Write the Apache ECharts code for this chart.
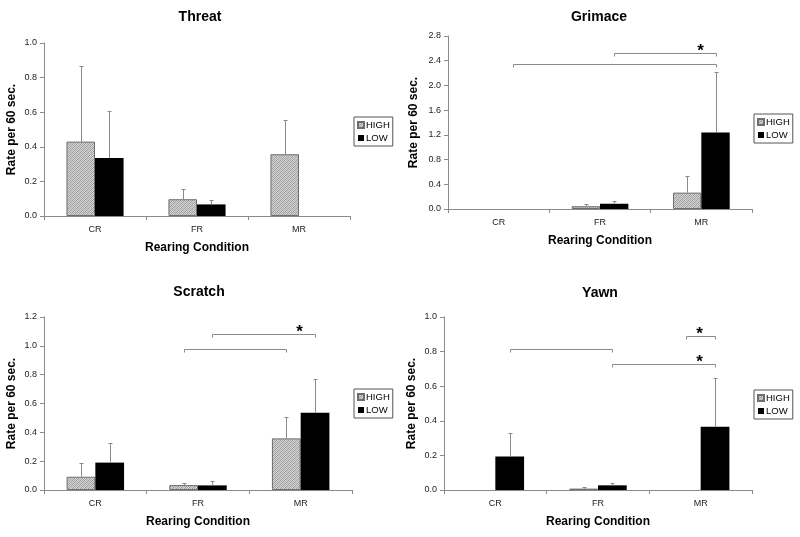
<!DOCTYPE html>
<html><head><meta charset="utf-8">
<script src="https://cdn.jsdelivr.net/npm/echarts@6/dist/echarts.min.js"></script>
<style>html,body{margin:0;padding:0;background:#fff}#c{width:800px;height:537px}</style>
</head><body><div id="c"></div>
<script>
const categories = ['CR', 'FR', 'MR'];
const seriesNames = ['HIGH', 'LOW'];
const panelTitles = ['Threat', 'Grimace', 'Scratch', 'Yawn'];
const yAxisMax = [1.0, 2.8, 1.2, 1.0];
const yAxisStep = [0.2, 0.4, 0.2, 0.2];

const threatHigh = [0.43, 0.097, 0.357];
const threatHighErr = [0.865, 0.154, 0.553];
const threatLow = [0.335, 0.067, 0];
const threatLowErr = [0.605, 0.091, null];

const grimaceHigh = [0, 0.045, 0.265];
const grimaceHighErr = [null, 0.075, 0.53];
const grimaceLow = [0, 0.085, 1.24];
const grimaceLowErr = [null, 0.135, 2.21];

const scratchHigh = [0.092, 0.034, 0.358];
const scratchHighErr = [0.185, 0.046, 0.505];
const scratchLow = [0.19, 0.032, 0.535];
const scratchLowErr = [0.326, 0.062, 0.773];

const yawnHigh = [0, 0.008, 0];
const yawnHighErr = [null, 0.016, null];
const yawnLow = [0.193, 0.027, 0.365];
const yawnLowErr = [0.328, 0.039, 0.645];

// brackets: [fromCat, fromSeries, toCat, toSeries, level, star]
const threatBrackets = [];
const grimaceBrackets = [[0, 1, 2, 1, 2.35, 0], [1, 1, 2, 1, 2.52, 1]];
const scratchBrackets = [[1, 0, 2, 0, 0.98, 0], [1, 1, 2, 1, 1.085, 1]];
const yawnBrackets = [[0, 1, 1, 1, 0.813, 0], [1, 1, 2, 1, 0.728, 1], [2, 0, 2, 1, 0.89, 1]];

const panels = [
  {high: threatHigh, highErr: threatHighErr, low: threatLow, lowErr: threatLowErr, brackets: threatBrackets},
  {high: grimaceHigh, highErr: grimaceHighErr, low: grimaceLow, lowErr: grimaceLowErr, brackets: grimaceBrackets},
  {high: scratchHigh, highErr: scratchHighErr, low: scratchLow, lowErr: scratchLowErr, brackets: scratchBrackets},
  {high: yawnHigh, highErr: yawnHighErr, low: yawnLow, lowErr: yawnLowErr, brackets: yawnBrackets}
];

// layout (styles only)
const grids = [
  {left: 44, top: 43, width: 306, height: 173},
  {left: 448, top: 36, width: 304, height: 173},
  {left: 44, top: 317, width: 308, height: 173},
  {left: 444, top: 317, width: 308, height: 173}
];
const titlePos = [[195, 5], [594, 5], [194, 280], [595, 281]];
const legendPos = [[354, 117], [754, 114], [354, 389], [754, 390]];
const yNameGap = [26, 28, 26, 26];

const FONT = '"Liberation Sans", Arial, sans-serif';
const AXIS_COLOR = '#8a8a8a';
const ERR_COLOR = '#8a8a8a';
const GAP = 0.44;

// fine stippled pattern
const pc = document.createElement('canvas');
pc.width = 4; pc.height = 4;
const pctx = pc.getContext('2d');
for (let x = 0; x < 4; x++) {
  for (let y = 0; y < 4; y++) {
    const k = (x + y) % 2;
    const d = (x + y) % 4 === 0;
    pctx.fillStyle = k === 0 ? (d ? '#9a9a9a' : '#b2b2b2') : '#d2d2d2';
    pctx.fillRect(x, y, 1, 1);
  }
}
const hatch = {image: pc, repeat: 'repeat'};

function barOffset(api, which) {
  const band = api.size([1, 0])[0];
  const bw = band * (1 - GAP) / 2;
  return which === 0 ? -bw / 2 : bw / 2;
}

const option = {
  animation: false,
  textStyle: {fontFamily: FONT},
  title: [], grid: [], xAxis: [], yAxis: [], legend: [], series: []
};

panels.forEach((p, i) => {
  option.title.push({
    text: panelTitles[i], left: titlePos[i][0], top: titlePos[i][1], textAlign: 'center',
    textStyle: {fontFamily: FONT, fontSize: 14, fontWeight: 'bold', color: '#000'}
  });
  option.grid.push(Object.assign({containLabel: false}, grids[i]));
  option.xAxis.push({
    type: 'category', gridIndex: i, data: categories,
    name: 'Rearing Condition', nameLocation: 'middle', nameGap: 26,
    nameTextStyle: {fontFamily: FONT, fontSize: 12, fontWeight: 'bold', color: '#000'},
    axisLine: {lineStyle: {color: AXIS_COLOR, width: 1}},
    axisTick: {show: true, alignWithLabel: false, length: 4, lineStyle: {color: AXIS_COLOR}},
    axisLabel: {fontFamily: FONT, fontSize: 9, color: '#222', margin: 9},
    splitLine: {show: false}
  });
  option.yAxis.push({
    type: 'value', gridIndex: i, min: 0, max: yAxisMax[i], interval: yAxisStep[i],
    name: 'Rate per 60 sec.', nameLocation: 'middle', nameGap: yNameGap[i], nameRotate: 90,
    nameTextStyle: {fontFamily: FONT, fontSize: 12, fontWeight: 'bold', color: '#000'},
    axisLine: {show: true, lineStyle: {color: AXIS_COLOR, width: 1}},
    axisTick: {show: true, length: 4, lineStyle: {color: AXIS_COLOR}},
    axisLabel: {fontFamily: FONT, fontSize: 9, color: '#222', margin: 7, formatter: v => v.toFixed(1)},
    splitLine: {show: false}
  });
  option.legend.push({
    orient: 'vertical', left: legendPos[i][0], top: legendPos[i][1],
    data: seriesNames, icon: 'rect', itemWidth: 6, itemHeight: 6, itemGap: 3,
    padding: [3, 3, 3, 3], borderColor: '#555', borderWidth: 1, selectedMode: false,
    textStyle: {fontFamily: FONT, fontSize: 9.5, color: '#000', padding: [0, 0, 0, -3]}
  });
  const mk = vals => vals.map(v => v === 0 ? {value: 0, itemStyle: {borderWidth: 0}} : v);
  option.series.push({
    type: 'bar', name: 'HIGH', xAxisIndex: i, yAxisIndex: i, data: mk(p.high),
    barGap: '0%', barCategoryGap: (GAP * 100) + '%',
    itemStyle: {color: hatch, borderColor: '#6e6e6e', borderWidth: 1}, z: 2
  });
  option.series.push({
    type: 'bar', name: 'LOW', xAxisIndex: i, yAxisIndex: i, data: mk(p.low),
    barGap: '0%', barCategoryGap: (GAP * 100) + '%',
    itemStyle: {color: '#000', borderColor: '#000', borderWidth: 0}, z: 2
  });
  const errData = [];
  p.high.forEach((v, k) => { if (p.highErr[k] != null) errData.push([k, v, p.highErr[k], 0]); });
  p.low.forEach((v, k) => { if (p.lowErr[k] != null) errData.push([k, v, p.lowErr[k], 1]); });
  option.series.push({
    type: 'custom', name: 'err', xAxisIndex: i, yAxisIndex: i, z: 3, silent: true,
    data: errData,
    renderItem: (params, api) => {
      const cat = api.value(0), val = api.value(1), top = api.value(2), which = api.value(3);
      const b = api.coord([cat, val]);
      const t = api.coord([cat, top]);
      const x = Math.round(b[0] + barOffset(api, which)) + 0.5;
      const ty = Math.round(t[1]) + 0.5;
      const style = {stroke: ERR_COLOR, lineWidth: 1};
      return {type: 'group', children: [
        {type: 'line', shape: {x1: x, y1: b[1], x2: x, y2: ty}, style},
        {type: 'line', shape: {x1: x - 2, y1: ty, x2: x + 2, y2: ty}, style}
      ]};
    }
  });
  if (p.brackets.length) {
    option.series.push({
      type: 'custom', name: 'brackets', xAxisIndex: i, yAxisIndex: i, z: 3, silent: true, clip: false,
      data: p.brackets,
      renderItem: (params, api) => {
        const c1 = api.value(0), s1 = api.value(1), c2 = api.value(2), s2 = api.value(3);
        const lvl = api.value(4), star = api.value(5);
        const p1 = api.coord([c1, lvl]);
        const p2 = api.coord([c2, lvl]);
        const x1 = Math.round(p1[0] + barOffset(api, s1)) + 0.5;
        const x2 = Math.round(p2[0] + barOffset(api, s2)) + 0.5;
        const y = Math.round(p1[1]) + 0.5;
        const style = {stroke: ERR_COLOR, lineWidth: 1};
        const ch = [
          {type: 'line', shape: {x1: x1, y1: y, x2: x2, y2: y}, style},
          {type: 'line', shape: {x1: x1, y1: y, x2: x1, y2: y + 3}, style},
          {type: 'line', shape: {x1: x2, y1: y, x2: x2, y2: y + 3}, style}
        ];
        if (star) {
          ch.push({type: 'text', x: x2 - 16, y: y + 6, style: {
            text: '*', fill: '#000', font: 'bold 17px ' + FONT, textAlign: 'center', textVerticalAlign: 'bottom'
          }});
        }
        return {type: 'group', children: ch};
      }
    });
  }
});

const chart = echarts.init(document.getElementById('c'), null, {renderer: 'canvas'});
chart.setOption(option);
</script>
</body></html>
